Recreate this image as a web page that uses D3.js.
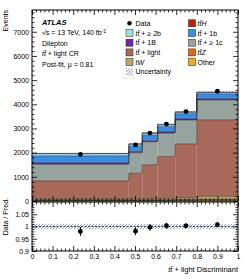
<!DOCTYPE html>
<html><head><meta charset="utf-8">
<script src="https://cdn.jsdelivr.net/npm/d3@7"></script>
<style>
body{margin:0;background:#fff}
svg{display:block}
text{font-family:"Liberation Sans",Arial,Helvetica,sans-serif;fill:#000}
</style>
</head><body>
<svg id="c" width="249" height="279"></svg>
<script>
// ---------------- data ----------------
const binEdges = [0, 0.47, 0.535, 0.61, 0.695, 0.8, 1];
// stacked components, bottom -> top
const sampleNames = ["Other", "ttZ", "tW", "tt+light", "tt+>=1c", "tt+1B", "tt+1b", "tt+>=2b", "ttH"];
const other   = [35, 35, 35, 40, 45, 60];
const ttZ     = [10, 10, 10, 10, 15, 20];
const tW      = [45, 50, 55, 60, 70, 110];
const ttLight = [740, 1055, 1390, 1730, 2230, 3170];
const tt1c    = [690, 850, 960, 970, 990, 820];
const tt1B    = [50, 45, 45, 45, 40, 40];
const tt1b    = [295, 225, 230, 230, 220, 215];
const tt2b    = [90, 80, 80, 70, 60, 55];
const ttH     = [15, 15, 15, 15, 20, 15];
const dataCounts = [1930, 2320, 2810, 3180, 3700, 4540];
const dataRatioErr = [0.018, 0.016, 0.014, 0.012, 0.011, 0.011];
const uncRel = [0.011, 0.011, 0.010, 0.010, 0.010, 0.010];
const sampleColors = ["#f9a51a", "#e2680f", "#b9a86f", "#a8695a", "#97a39f", "#7127ad", "#3b8de0", "#a3dfe0", "#c1200e"];

const mainYTicks = [0, 1000, 2000, 3000, 4000, 5000, 6000, 7000];
const ratioYTicks = [0.9, 0.95, 1, 1.05];
const xTicks = [0, 0.1, 0.2, 0.3, 0.4, 0.5, 0.6, 0.7, 0.8, 0.9, 1];

const series = [other, ttZ, tW, ttLight, tt1c, tt1B, tt1b, tt2b, ttH];

// ---------------- layout ----------------
const svg = d3.select("#c");
const L = 32, R = 238, T = 10, MB = 201, RT = 202, RB = 251;
const x = d3.scaleLinear().domain([0, 1]).range([L, R]);
const y = d3.scaleLinear().domain([0, 7900]).range([MB, T]);
const yr = d3.scaleLinear().domain([0.9, 1.1]).range([RB, RT]);

const defs = svg.append("defs");
const pat = defs.append("pattern").attr("id", "hatch").attr("patternUnits", "userSpaceOnUse")
  .attr("width", 3).attr("height", 3);
pat.append("path").attr("d", "M-1,1 l2,-2 M0,3 l3,-3 M2,4 l2,-2")
  .attr("stroke", "#4f62ee").attr("stroke-width", 0.6);
defs.append("clipPath").attr("id", "clipMain").append("rect").attr("x", L).attr("y", T).attr("width", R - L).attr("height", MB - T);

// ---------------- stack ----------------
const nb = dataCounts.length;
const bins = d3.range(nb).map(i => ({x0: binEdges[i], x1: binEdges[i + 1]}));
const cum = [];
let running = new Array(nb).fill(0);
series.forEach((s, k) => {
  const lo = running.slice();
  running = running.map((v, i) => v + s[i]);
  cum.push({lo, hi: running.slice(), color: sampleColors[k]});
});
const totals = running;

const gStack = svg.append("g").attr("clip-path", "url(#clipMain)");
cum.forEach(c => {
  gStack.selectAll(null).data(bins).enter().append("rect")
    .attr("x", b => x(b.x0)).attr("width", b => x(b.x1) - x(b.x0))
    .attr("y", (b, i) => y(c.hi[i])).attr("height", (b, i) => y(c.lo[i]) - y(c.hi[i]))
    .attr("fill", c.color);
});
// step outlines
const stepLine = d3.line().x(d => x(d[0])).y(d => y(d[1]));
cum.forEach(c => {
  const pts = [];
  bins.forEach((b, i) => { pts.push([b.x0, c.hi[i]]); pts.push([b.x1, c.hi[i]]); });
  gStack.append("path").attr("d", stepLine(pts)).attr("fill", "none")
    .attr("stroke", "#1a1a1a").attr("stroke-width", 0.6).attr("stroke-opacity", 0.75);
});
// uncertainty band on top
gStack.selectAll(null).data(bins).enter().append("rect")
  .attr("x", b => x(b.x0)).attr("width", b => x(b.x1) - x(b.x0))
  .attr("y", (b, i) => y(totals[i] * (1 + uncRel[i])))
  .attr("height", (b, i) => y(totals[i] * (1 - uncRel[i])) - y(totals[i] * (1 + uncRel[i])))
  .attr("fill", "url(#hatch)");

// data points
const centers = bins.map(b => (b.x0 + b.x1) / 2);
svg.selectAll(null).data(dataCounts).enter().append("circle")
  .attr("cx", (d, i) => x(centers[i])).attr("cy", d => y(d)).attr("r", 2.4).attr("fill", "#000");

// ---------------- ratio ----------------
const gR = svg.append("g");
gR.selectAll(null).data(bins).enter().append("rect")
  .attr("x", b => x(b.x0)).attr("width", b => x(b.x1) - x(b.x0))
  .attr("y", (b, i) => yr(1 + uncRel[i])).attr("height", (b, i) => yr(1 - uncRel[i]) - yr(1 + uncRel[i]))
  .attr("fill", "url(#hatch)");
gR.append("line").attr("x1", x(0)).attr("x2", x(1)).attr("y1", yr(1)).attr("y2", yr(1))
  .attr("stroke", "#000").attr("stroke-width", 0.7).attr("stroke-dasharray", "2,1.5");
const ratio = dataCounts.map((d, i) => d / totals[i]);
gR.selectAll(null).data(ratio).enter().append("line")
  .attr("x1", (d, i) => x(centers[i])).attr("x2", (d, i) => x(centers[i]))
  .attr("y1", (d, i) => yr(d - dataRatioErr[i])).attr("y2", (d, i) => yr(d + dataRatioErr[i]))
  .attr("stroke", "#000").attr("stroke-width", 1);
gR.selectAll(null).data(ratio).enter().append("circle")
  .attr("cx", (d, i) => x(centers[i])).attr("cy", d => yr(d)).attr("r", 2.4).attr("fill", "#000");

// ---------------- axes ----------------
function styleAxis(g, fs) {
  g.select(".domain").remove();
  g.selectAll(".tick line").attr("stroke", "#000").attr("stroke-width", 0.8);
  g.selectAll("text").style("font-size", fs + "px").attr("fill", "#000");
}
const MAJ = 5, MIN = 2.5;
const xMinor = d3.range(0, 1.0001, 0.02).filter(v => Math.abs(v * 10 - Math.round(v * 10)) > 1e-6);
const yMinor = d3.range(0, 7900, 200).filter(v => v % 1000 !== 0);
const rMinor = d3.range(0.9, 1.1001, 0.01).filter(v => Math.abs(v * 20 - Math.round(v * 20)) > 1e-6);

// main left
svg.append("g").attr("transform", `translate(${L},0)`)
  .call(d3.axisLeft(y).tickValues(mainYTicks).tickSize(-MAJ).tickPadding(3).tickFormat(d3.format("d")))
  .call(g => styleAxis(g, 7));
svg.append("g").attr("transform", `translate(${L},0)`)
  .call(d3.axisLeft(y).tickValues(yMinor).tickSize(-MIN).tickFormat("")).call(g => styleAxis(g, 7));
// main right
svg.append("g").attr("transform", `translate(${R},0)`)
  .call(d3.axisRight(y).tickValues(mainYTicks).tickSize(-MAJ).tickFormat("")).call(g => styleAxis(g, 7));
svg.append("g").attr("transform", `translate(${R},0)`)
  .call(d3.axisRight(y).tickValues(yMinor).tickSize(-MIN).tickFormat("")).call(g => styleAxis(g, 7));
// main top/bottom
[[T, d3.axisTop], [MB, d3.axisBottom]].forEach(([yy, ax]) => {
  svg.append("g").attr("transform", `translate(0,${yy})`)
    .call(ax(x).tickValues(xTicks).tickSize(-MAJ).tickFormat("")).call(g => styleAxis(g, 7));
  svg.append("g").attr("transform", `translate(0,${yy})`)
    .call(ax(x).tickValues(xMinor).tickSize(-MIN).tickFormat("")).call(g => styleAxis(g, 7));
});
// ratio left/right
svg.append("g").attr("transform", `translate(${L},0)`)
  .call(d3.axisLeft(yr).tickValues(ratioYTicks).tickSize(-MAJ).tickPadding(3).tickFormat(d3.format(".2~f")))
  .call(g => styleAxis(g, 7));
svg.append("g").attr("transform", `translate(${L},0)`)
  .call(d3.axisLeft(yr).tickValues(rMinor).tickSize(-MIN).tickFormat("")).call(g => styleAxis(g, 7));
svg.append("g").attr("transform", `translate(${R},0)`)
  .call(d3.axisRight(yr).tickValues(ratioYTicks).tickSize(-MAJ).tickFormat("")).call(g => styleAxis(g, 7));
svg.append("g").attr("transform", `translate(${R},0)`)
  .call(d3.axisRight(yr).tickValues(rMinor).tickSize(-MIN).tickFormat("")).call(g => styleAxis(g, 7));
// ratio top/bottom
svg.append("g").attr("transform", `translate(0,${RB})`)
  .call(d3.axisBottom(x).tickValues(xTicks).tickSize(-MAJ).tickPadding(3).tickFormat(d3.format(".1~f")))
  .call(g => styleAxis(g, 7));
svg.append("g").attr("transform", `translate(0,${RB})`)
  .call(d3.axisBottom(x).tickValues(xMinor).tickSize(-MIN).tickFormat("")).call(g => styleAxis(g, 7));
svg.append("g").attr("transform", `translate(0,${RT})`)
  .call(d3.axisTop(x).tickValues(xTicks).tickSize(-MAJ).tickFormat("")).call(g => styleAxis(g, 7));
svg.append("g").attr("transform", `translate(0,${RT})`)
  .call(d3.axisTop(x).tickValues(xMinor).tickSize(-MIN).tickFormat("")).call(g => styleAxis(g, 7));

// frames
svg.append("rect").attr("x", L).attr("y", T).attr("width", R - L).attr("height", MB - T)
  .attr("fill", "none").attr("stroke", "#000").attr("stroke-width", 1);
svg.append("rect").attr("x", L).attr("y", RT).attr("width", R - L).attr("height", RB - RT)
  .attr("fill", "none").attr("stroke", "#000").attr("stroke-width", 1);

// axis titles
svg.append("text").attr("transform", `translate(8,${T}) rotate(-90)`).attr("text-anchor", "end")
  .style("font-size", "7px").text("Events");
svg.append("text").attr("transform", `translate(8,198) rotate(-90)`).attr("text-anchor", "end")
  .style("font-size", "7px").text("Data / Pred.");
const xt = svg.append("text").attr("x", R).attr("y", 272).attr("text-anchor", "end").style("font-size", "7.5px");
xt.append("tspan").style("font-style", "italic").text("tt\u0304");
xt.append("tspan").text(" + light Discriminant");

// ATLAS label block
svg.append("text").attr("x", 42).attr("y", 24.5).style("font-size", "7.5px")
  .style("font-weight", "bold").style("font-style", "italic").text("ATLAS");
const t1 = svg.append("text").attr("x", 42).attr("y", 35).style("font-size", "7px");
t1.append("tspan").text("\u221As = 13 TeV, 140 fb");
t1.append("tspan").attr("dy", -2.5).style("font-size", "5px").text("-1");
svg.append("text").attr("x", 42).attr("y", 45.5).style("font-size", "7px").text("Dilepton");
const t3 = svg.append("text").attr("x", 42).attr("y", 56).style("font-size", "7px");
t3.append("tspan").style("font-style", "italic").text("tt\u0304");
t3.append("tspan").text(" + light CR");
svg.append("text").attr("x", 42).attr("y", 66.5).style("font-size", "7px").text("Post-fit, \u03BC = 0.81");

// ---------------- legend ----------------
const legendLeft = [
  {k: "data", a: "", b: "Data"},
  {k: 7, a: "tt\u0304", b: " + \u2265 2b"},
  {k: 5, a: "tt\u0304", b: " + 1B"},
  {k: 3, a: "tt\u0304", b: " + light"},
  {k: 2, a: "tW", b: ""},
  {k: "unc", a: "", b: "Uncertainty"}
];
const legendRight = [
  {k: 8, a: "tt\u0304H", b: ""},
  {k: 6, a: "tt\u0304", b: " + 1b"},
  {k: 4, a: "tt\u0304", b: " + \u2265 1c"},
  {k: 1, a: "tt\u0304Z", b: ""},
  {k: 0, a: "", b: "Other"}
];
function drawLegend(items, bx, tx) {
  items.forEach((it, j) => {
    const cy = 23.3 + j * 9.7;
    if (it.k === "data") {
      svg.append("circle").attr("cx", bx + 3.5).attr("cy", cy).attr("r", 2.2).attr("fill", "#000");
    } else if (it.k === "unc") {
      svg.append("rect").attr("x", bx).attr("y", cy - 3.5).attr("width", 7).attr("height", 7).attr("fill", "url(#hatch)");
    } else {
      svg.append("rect").attr("x", bx).attr("y", cy - 3.5).attr("width", 7).attr("height", 7)
        .attr("fill", sampleColors[it.k]).attr("stroke", "#222").attr("stroke-width", 0.5);
    }
    const t = svg.append("text").attr("x", tx).attr("y", cy + 2.5).style("font-size", "7px");
    if (it.a) t.append("tspan").style("font-style", "italic").text(it.a);
    if (it.b) t.append("tspan").text(it.b);
  });
}
drawLegend(legendLeft, 126, 135.5);
drawLegend(legendRight, 188.5, 197.5);
</script>
</body></html>
